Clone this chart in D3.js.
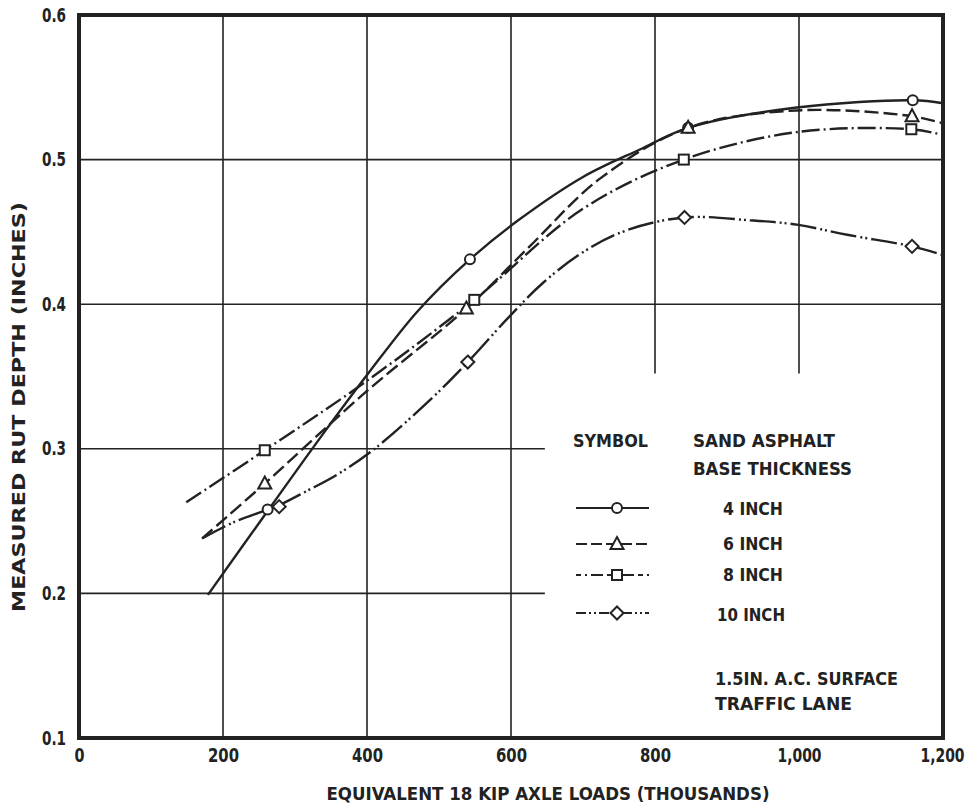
<!DOCTYPE html>
<html>
<head>
<meta charset="utf-8">
<script src="https://cdn.jsdelivr.net/npm/d3@7"></script>
<style>
  html, body { margin: 0; padding: 0; background: #fff; }
  svg { display: block; }
  text { font-family: "Liberation Sans Narrow", "DejaVu Sans Condensed", "Roboto Condensed", "Liberation Sans", Arial, sans-serif; font-weight: bold; fill: #222; }
</style>
</head>
<body>
<svg id="chart" width="968" height="809"></svg>
<script>
// Axis ticks
const xTicks = [0, 200, 400, 600, 800, 1000, 1200];
const yTicks = [0.1, 0.2, 0.3, 0.4, 0.5, 0.6];

// Series (load in thousands, rut depth in inches)
const seriesNames = ["4 INCH", "6 INCH", "8 INCH", "10 INCH"];

// Fitted curves
const curve4 = [[179,0.199],[262,0.257],[340,0.311],[400,0.351],[470,0.395],[543,0.431],[610,0.458],[700,0.488],[779,0.507],[846,0.522],[997,0.536],[1158,0.541],[1200,0.539]];
const curve6 = [[171,0.238],[258,0.276],[400,0.340],[538,0.397],[626,0.440],[724,0.487],[846,0.522],[997,0.534],[1157,0.530],[1200,0.525]];
const curve8 = [[149,0.263],[258,0.299],[397,0.346],[549,0.403],[700,0.466],[840,0.500],[997,0.519],[1156,0.521],[1200,0.517]];
const curve10 = [[171,0.238],[214,0.249],[262,0.258],[278,0.261],[317,0.271],[358,0.282],[408,0.299],[488,0.334],[540,0.360],[595,0.390],[645,0.415],[700,0.436],[760,0.451],[841,0.460],[932,0.458],[997,0.455],[1067,0.448],[1157,0.440],[1200,0.434]];

// Measured points
const points4 = [[262,0.258],[543,0.431],[846,0.522],[1158,0.541]];
const points6 = [[258,0.276],[538,0.397],[846,0.522],[1157,0.530]];
const points8 = [[258,0.299],[549,0.403],[840,0.500],[1156,0.521]];
const points10 = [[278,0.260],[540,0.360],[841,0.460],[1157,0.440]];

const svg = d3.select("#chart");
const x = d3.scaleLinear().domain([0, 1200]).range([79, 943]);
const y = d3.scaleLinear().domain([0.1, 0.6]).range([738, 15]);

const ink = "#222";

// ---- grid (the legend panel in the lower right is kept clear) ----
const panelLoad = 647;   // left edge of the legend panel, in load units
const panelDepth = 0.352; // top edge of the legend panel, in inches
const grid = svg.append("g").attr("stroke", ink).attr("stroke-width", 1.6);
xTicks.filter(v => v > 0 && v < 1200).forEach(v => {
  grid.append("line")
    .attr("x1", x(v)).attr("x2", x(v))
    .attr("y1", y(0.6)).attr("y2", v > panelLoad ? y(panelDepth) : y(0.1));
});
yTicks.filter(v => v > 0.1 && v < 0.6).forEach(v => {
  grid.append("line")
    .attr("y1", y(v)).attr("y2", y(v))
    .attr("x1", x(0)).attr("x2", v < panelDepth ? x(panelLoad) : x(1200));
});

// ---- frame ----
svg.append("rect")
  .attr("x", x(0)).attr("y", y(0.6))
  .attr("width", x(1200) - x(0)).attr("height", y(0.1) - y(0.6))
  .attr("fill", "none").attr("stroke", ink).attr("stroke-width", 4);

// ---- axes ----
const fmt = d => d >= 1000 ? d3.format(",")(d) : String(d);
const xAxis = svg.append("g").attr("transform", `translate(0,${y(0.1)})`)
  .call(d3.axisBottom(x).tickValues(xTicks).tickFormat(fmt).tickSize(0).tickPadding(11));
xAxis.select(".domain").remove();
xAxis.attr("font-family", null).attr("font-size", null);
xAxis.selectAll("text").attr("font-size", 19).attr("fill", ink)
  .attr("textLength", d => d >= 1000 ? 44 : (d === 0 ? 10 : 31))
  .attr("lengthAdjust", "spacingAndGlyphs");
// keep the last label inside the page
xAxis.selectAll("text").filter(d => d === 1200).attr("text-anchor", "end").attr("x", 21);

const yAxis = svg.append("g").attr("transform", `translate(${x(0)},0)`)
  .call(d3.axisLeft(y).tickValues(yTicks).tickFormat(d3.format(".1f")).tickSize(0).tickPadding(13));
yAxis.select(".domain").remove();
yAxis.attr("font-family", null).attr("font-size", null);
yAxis.selectAll("text").attr("font-size", 19).attr("fill", ink)
  .attr("textLength", 24).attr("lengthAdjust", "spacingAndGlyphs");

// axis titles
svg.append("text")
  .attr("x", 548).attr("y", 800).attr("text-anchor", "middle")
  .attr("font-size", 18).attr("textLength", 443).attr("lengthAdjust", "spacingAndGlyphs")
  .text("EQUIVALENT 18 KIP AXLE LOADS (THOUSANDS)");
svg.append("text")
  .attr("transform", "translate(25,407) rotate(-90)").attr("text-anchor", "middle")
  .attr("font-size", 18).attr("textLength", 410).attr("lengthAdjust", "spacingAndGlyphs")
  .text("MEASURED RUT DEPTH (INCHES)");

// ---- series ----
const dashes = [null, "14,5", "18,4,2,4", "26,4,2,3,2,4"];
const curves = [curve4, curve6, curve8, curve10];
const points = [points4, points6, points8, points10];
const shapes = ["circle", "triangle", "square", "diamond"];

const line = d3.line().x(d => x(d[0])).y(d => y(d[1])).curve(d3.curveCatmullRom.alpha(0.5));

function drawMarker(g, shape, cx, cy) {
  const common = s => s.attr("fill", "#fff").attr("stroke", ink).attr("stroke-width", 2);
  if (shape === "circle") {
    common(g.append("circle").attr("cx", cx).attr("cy", cy).attr("r", 5));
  } else if (shape === "triangle") {
    common(g.append("path").attr("d", `M${cx},${cy - 7}L${cx + 6.5},${cy + 5}L${cx - 6.5},${cy + 5}Z`));
  } else if (shape === "square") {
    common(g.append("rect").attr("x", cx - 5).attr("y", cy - 5).attr("width", 10).attr("height", 10));
  } else {
    common(g.append("path").attr("d", `M${cx},${cy - 6.5}L${cx + 6.5},${cy}L${cx},${cy + 6.5}L${cx - 6.5},${cy}Z`));
  }
}

const lines = svg.append("g");
curves.forEach((c, i) => {
  lines.append("path").datum(c)
    .attr("d", line).attr("fill", "none")
    .attr("stroke", ink).attr("stroke-width", 2.4)
    .attr("stroke-dasharray", dashes[i]);
});
const marks = svg.append("g");
points.forEach((pts, i) => {
  pts.forEach(p => drawMarker(marks, shapes[i], x(p[0]), y(p[1])));
});

// ---- legend ----
const legend = svg.append("g");
const legendText = (t, xx, yy, w) => legend.append("text")
  .attr("x", xx).attr("y", yy).attr("font-size", 17)
  .attr("textLength", w).attr("lengthAdjust", "spacingAndGlyphs").text(t);

legendText("SYMBOL", 573, 447, 75);
legendText("SAND ASPHALT", 693, 447, 142);
legendText("BASE THICKNESS", 693, 475, 159);

const rowY = [508, 544, 575, 613];
const labelY = [515, 550, 581, 621];
const labelX = [723, 723, 723, 717];
const labelW = [60, 60, 60, 68];
seriesNames.forEach((name, i) => {
  legend.append("line")
    .attr("x1", 576).attr("x2", 649).attr("y1", rowY[i]).attr("y2", rowY[i])
    .attr("stroke", ink).attr("stroke-width", 2)
    .attr("stroke-dasharray", i === 0 ? null : ["", "11,4", "5,4,2,4,12,4", "10,3,2,3,2,3"][i]);
  drawMarker(legend, shapes[i], 617, rowY[i]);
  legendText(name, labelX[i], labelY[i], labelW[i]);
});

legendText("1.5IN. A.C. SURFACE", 715, 685, 183);
legendText("TRAFFIC LANE", 715, 710, 137);
</script>
</body>
</html>
